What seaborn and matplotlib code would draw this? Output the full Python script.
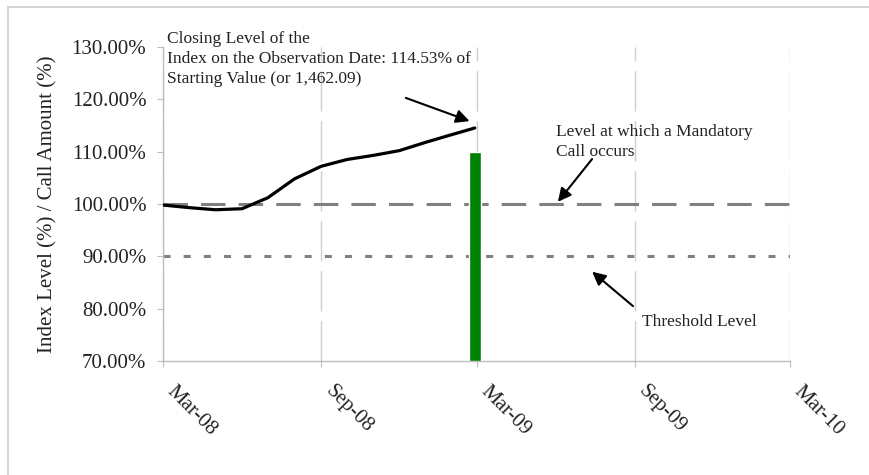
import pandas as pd
import seaborn as sns
import matplotlib.pyplot as plt
import matplotlib.dates as mdates
import matplotlib.transforms as mtransforms
from matplotlib.patches import Rectangle

# index level path (% of starting value)
dates = pd.to_datetime(['2008-03-01', '2008-04-01', '2008-05-01', '2008-06-01',
                        '2008-07-01', '2008-08-01', '2008-09-01', '2008-10-01',
                        '2008-11-01', '2008-12-01', '2009-01-01', '2009-02-01',
                        '2009-02-27'])
index_level = [99.8, 99.3, 98.9, 99.1, 101.2, 104.8, 107.2, 108.5,
               109.3, 110.2, 111.8, 113.3, 114.53]

obs_date = pd.to_datetime(['2009-02-27'])
call_amount = [110.0]
call_level = 100.0
threshold_level = 90.0

tick_dates = pd.to_datetime(['2008-03-01', '2008-09-01', '2009-03-01',
                             '2009-09-01', '2010-03-01'])
y_ticks = [70, 80, 90, 100, 110, 120, 130]

df = pd.DataFrame({'date': dates, 'level': index_level})

sns.set_style('white')
plt.rcParams['font.family'] = ['Liberation Serif', 'DejaVu Serif']

fig = plt.figure(figsize=(8.7, 4.75), dpi=100)
ax = fig.add_axes([0.1874, 0.24, 0.7207, 0.661])

# outer frame
fig.patches.append(Rectangle((8 / 870, -0.02), 1.1, (475 - 7) / 475 + 0.02,
                             transform=fig.transFigure, fill=False,
                             edgecolor='#d4d4d4', lw=1.5))

# call amount bar
ax.bar(obs_date, [v - 70 for v in call_amount], bottom=70, width=14,
       color='#008000', zorder=3)

ax.axhline(call_level, color='#808080', lw=2.2, linestyle=(0, (8, 4.3)), zorder=2)
ax.axhline(threshold_level, color='#808080', lw=2.2, linestyle=(0, (2.3, 4.3)), zorder=2)

sns.lineplot(data=df, x='date', y='level', color='black', lw=2.3, ax=ax, zorder=4)

ax.set_xlim(tick_dates[0], tick_dates[-1])
ax.set_ylim(70, 130)
ax.set_xticks(tick_dates)
ax.xaxis.set_major_formatter(mdates.DateFormatter('%b-%y'))
ax.set_yticks(y_ticks)
ax.set_yticklabels([f'{v:.2f}%' for v in y_ticks])

ax.grid(axis='x', color='#cfcfcf', lw=1, linestyle=(0, (29, 7)))
ax.grid(axis='y', visible=False)

for s in ['top', 'right']:
    ax.spines[s].set_visible(False)
for s in ['left', 'bottom']:
    ax.spines[s].set_color('#bdbdbd')
    ax.spines[s].set_linewidth(1)

ax.tick_params(axis='y', length=4, color='#bdbdbd', labelsize=15, pad=8,
               labelcolor='#222222', left=True)
ax.tick_params(axis='x', length=4, color='#bdbdbd', labelsize=15, pad=16,
               labelcolor='#222222', bottom=True)
shift = mtransforms.ScaledTranslation(5 / 72, 0, fig.dpi_scale_trans)
for lbl in ax.get_xticklabels():
    lbl.set_rotation(-45)
    lbl.set_ha('left')
    lbl.set_va('center')
    lbl.set_rotation_mode('anchor')
    lbl.set_transform(lbl.get_transform() + shift)

ax.set_xlabel('')
ax.set_ylabel('Index Level (%) / Call Amount (%)', fontsize=15, color='#222222',
              labelpad=10)

txt_kw = dict(xycoords='axes fraction', fontsize=12.5, color='#222222',
              ha='left', annotation_clip=False)
arrow_kw = dict(arrowstyle='-|>', color='black', lw=1.5, mutation_scale=20)

ax.annotate('Closing Level of the\nIndex on the Observation Date: 114.53% of\n'
            'Starting Value (or 1,462.09)', xy=(0.006, 1.05), va='top',
            linespacing=1.3, **txt_kw)
ax.annotate('', xy=(0.493, 0.761), xytext=(0.383, 0.841),
            xycoords='axes fraction', arrowprops=arrow_kw)

ax.annotate('Level at which a Mandatory\nCall occurs', xy=(0.627, 0.755),
            va='top', linespacing=1.3, **txt_kw)
ax.annotate('', xy=(0.627, 0.5), xytext=(0.687, 0.65),
            xycoords='axes fraction', arrowprops=arrow_kw)

ax.annotate('Threshold Level', xy=(0.764, 0.124), va='center', **txt_kw)
ax.annotate('', xy=(0.681, 0.29), xytext=(0.753, 0.169),
            xycoords='axes fraction', arrowprops=arrow_kw)

fig.savefig('out.png', dpi=100)
